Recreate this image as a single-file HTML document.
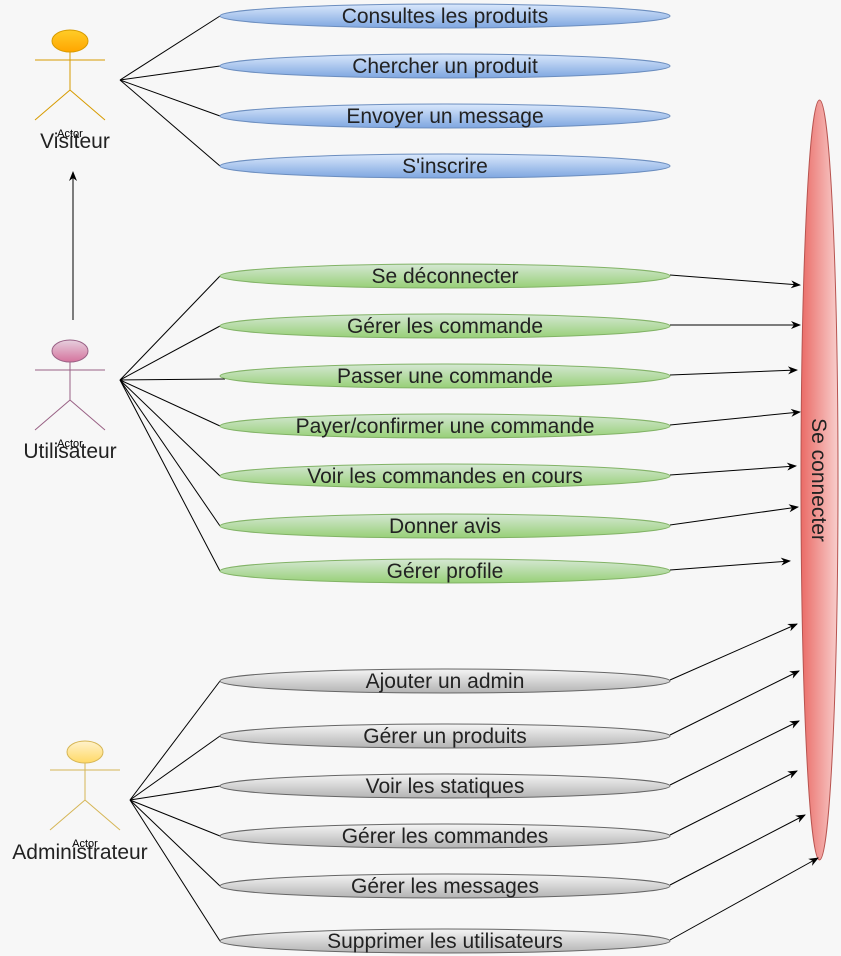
<!DOCTYPE html>
<html><head><meta charset="utf-8"><style>
html,body{margin:0;padding:0;background:#f7f7f7;}
svg{display:block;font-family:"Liberation Sans",sans-serif;}
</style></head><body>
<svg width="841" height="956" viewBox="0 0 841 956" xmlns="http://www.w3.org/2000/svg">
<defs>
<linearGradient id="gb" x1="0" y1="0" x2="0" y2="1"><stop offset="0" stop-color="#dae8fc"/><stop offset="1" stop-color="#7ea6e0"/></linearGradient>
<linearGradient id="gg" x1="0" y1="0" x2="0" y2="1"><stop offset="0" stop-color="#d5e8d4"/><stop offset="1" stop-color="#97d077"/></linearGradient>
<linearGradient id="gy" x1="0" y1="0" x2="0" y2="1"><stop offset="0" stop-color="#f5f5f5"/><stop offset="1" stop-color="#b3b3b3"/></linearGradient>
<linearGradient id="gr" x1="0" y1="0" x2="1" y2="0"><stop offset="0" stop-color="#ea6b66"/><stop offset="1" stop-color="#f8cecc"/></linearGradient>
<linearGradient id="go" x1="0" y1="0" x2="0" y2="1"><stop offset="0" stop-color="#ffcd28"/><stop offset="1" stop-color="#ffa500"/></linearGradient>
<linearGradient id="gp" x1="0" y1="0" x2="0" y2="1"><stop offset="0" stop-color="#e6d0de"/><stop offset="1" stop-color="#d5739d"/></linearGradient>
<linearGradient id="gyl" x1="0" y1="0" x2="0" y2="1"><stop offset="0" stop-color="#fff2cc"/><stop offset="1" stop-color="#ffd966"/></linearGradient>
<marker id="ar" markerWidth="10" markerHeight="10" refX="9" refY="5" orient="auto" markerUnits="userSpaceOnUse"><path d="M0,1 L10,5 L0,9 L3,5 Z" fill="#000"/></marker>
</defs>

<ellipse cx="819.5" cy="480" rx="18.5" ry="380" fill="url(#gr)" stroke="#b85450"/>
<text x="0" y="0" transform="translate(812,480) rotate(90)" text-anchor="middle" font-size="21" fill="#222">Se connecter</text>

<g stroke="#000" stroke-width="1" fill="none">
<line x1="120" y1="80" x2="220" y2="16"/>
<line x1="120" y1="80" x2="220" y2="66"/>
<line x1="120" y1="80" x2="220" y2="116"/>
<line x1="120" y1="80" x2="220" y2="166"/>
<line x1="120" y1="380" x2="220" y2="276"/>
<line x1="120" y1="380" x2="220" y2="326"/>
<line x1="120" y1="380" x2="225" y2="379"/>
<line x1="120" y1="380" x2="220" y2="426"/>
<line x1="120" y1="380" x2="220" y2="476"/>
<line x1="120" y1="380" x2="220" y2="526"/>
<line x1="120" y1="380" x2="220" y2="571"/>
<line x1="130" y1="800" x2="220" y2="681"/>
<line x1="130" y1="800" x2="220" y2="736"/>
<line x1="130" y1="800" x2="220" y2="786"/>
<line x1="130" y1="800" x2="220" y2="836"/>
<line x1="130" y1="800" x2="220" y2="886"/>
<line x1="130" y1="800" x2="220" y2="941"/>
<line x1="73" y1="320" x2="73" y2="172" marker-end="url(#ar)"/>
<line x1="670" y1="275" x2="800" y2="285" marker-end="url(#ar)"/>
<line x1="670" y1="325" x2="800" y2="325" marker-end="url(#ar)"/>
<line x1="670" y1="375" x2="797" y2="370" marker-end="url(#ar)"/>
<line x1="670" y1="425" x2="800" y2="412" marker-end="url(#ar)"/>
<line x1="670" y1="475" x2="796" y2="466" marker-end="url(#ar)"/>
<line x1="670" y1="525" x2="798" y2="507" marker-end="url(#ar)"/>
<line x1="670" y1="570" x2="790" y2="561" marker-end="url(#ar)"/>
<line x1="670" y1="680" x2="797" y2="624" marker-end="url(#ar)"/>
<line x1="670" y1="735" x2="799" y2="671" marker-end="url(#ar)"/>
<line x1="670" y1="785" x2="799" y2="721" marker-end="url(#ar)"/>
<line x1="670" y1="835" x2="797" y2="771" marker-end="url(#ar)"/>
<line x1="670" y1="885" x2="805" y2="815" marker-end="url(#ar)"/>
<line x1="670" y1="940" x2="818" y2="858" marker-end="url(#ar)"/>
</g>

<g font-size="21" text-anchor="middle" fill="#222">
<g stroke="#6c8ebf">
<ellipse cx="445" cy="16" rx="225" ry="12" fill="url(#gb)"/>
<ellipse cx="445" cy="66" rx="225" ry="12" fill="url(#gb)"/>
<ellipse cx="445" cy="116" rx="225" ry="12" fill="url(#gb)"/>
<ellipse cx="445" cy="166" rx="225" ry="12" fill="url(#gb)"/>
</g>
<g stroke="#82b366">
<ellipse cx="445" cy="276" rx="225" ry="12" fill="url(#gg)"/>
<ellipse cx="445" cy="326" rx="225" ry="12" fill="url(#gg)"/>
<ellipse cx="445" cy="376" rx="225" ry="12" fill="url(#gg)"/>
<ellipse cx="445" cy="426" rx="225" ry="12" fill="url(#gg)"/>
<ellipse cx="445" cy="476" rx="225" ry="12" fill="url(#gg)"/>
<ellipse cx="445" cy="526" rx="225" ry="12" fill="url(#gg)"/>
<ellipse cx="445" cy="571" rx="225" ry="12" fill="url(#gg)"/>
</g>
<g stroke="#666666">
<ellipse cx="445" cy="681" rx="225" ry="12" fill="url(#gy)"/>
<ellipse cx="445" cy="736" rx="225" ry="12" fill="url(#gy)"/>
<ellipse cx="445" cy="786" rx="225" ry="12" fill="url(#gy)"/>
<ellipse cx="445" cy="836" rx="225" ry="12" fill="url(#gy)"/>
<ellipse cx="445" cy="886" rx="225" ry="12" fill="url(#gy)"/>
<ellipse cx="445" cy="941" rx="225" ry="12" fill="url(#gy)"/>
</g>
<text x="445" y="23">Consultes les produits</text>
<text x="445" y="73">Chercher un produit</text>
<text x="445" y="123">Envoyer un message</text>
<text x="445" y="173">S'inscrire</text>
<text x="445" y="283">Se déconnecter</text>
<text x="445" y="333">Gérer les commande</text>
<text x="445" y="383">Passer une commande</text>
<text x="445" y="433">Payer/confirmer une commande</text>
<text x="445" y="483">Voir les commandes en cours</text>
<text x="445" y="533">Donner avis</text>
<text x="445" y="578">Gérer profile</text>
<text x="445" y="688">Ajouter un admin</text>
<text x="445" y="743">Gérer un produits</text>
<text x="445" y="793">Voir les statiques</text>
<text x="445" y="843">Gérer les commandes</text>
<text x="445" y="893">Gérer les messages</text>
<text x="445" y="948">Supprimer les utilisateurs</text>
</g>

<g fill="none" stroke-width="1">
<g stroke="#d79b00">
<ellipse cx="70" cy="41" rx="18" ry="11" fill="url(#go)"/>
<path d="M70 52 V90 M35 60 H105 M70 90 L35 120 M70 90 L105 120"/>
</g>
<g stroke="#996185">
<ellipse cx="70" cy="351" rx="18" ry="11" fill="url(#gp)"/>
<path d="M70 362 V400 M35 370 H105 M70 400 L35 430 M70 400 L105 430"/>
</g>
<g stroke="#d6b656">
<ellipse cx="85" cy="752" rx="18" ry="11" fill="url(#gyl)"/>
<path d="M85 763 V800 M50 770 H120 M85 800 L50 830 M85 800 L120 830"/>
</g>
</g>
<g text-anchor="middle" fill="#000">
<text x="70" y="137" font-size="11">Actor</text>
<text x="75" y="148" font-size="21" fill="#222">Visiteur</text>
<text x="70" y="447" font-size="11">Actor</text>
<text x="70" y="458" font-size="21" fill="#222">Utilisateur</text>
<text x="85" y="847" font-size="11">Actor</text>
<text x="80" y="859" font-size="21" fill="#222">Administrateur</text>
</g>
</svg>
</body></html>
